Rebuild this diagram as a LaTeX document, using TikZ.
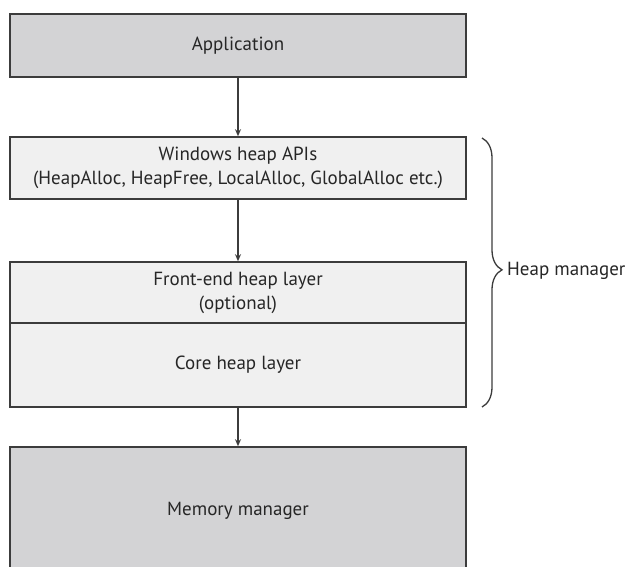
\documentclass[tikz,border=0pt]{standalone}
\usepackage{fontspec}
\setmainfont{PT Sans}
\usetikzlibrary{arrows.meta,decorations.pathreplacing}
\definecolor{darkfill}{HTML}{D3D3D5}
\definecolor{lightfill}{HTML}{F0F0F0}
\definecolor{edge}{HTML}{3C3C3C}
\begin{document}
\begin{tikzpicture}[x=1pt,y=-1pt,
  txt/.style={font=\fontsize{19}{24}\selectfont, text=black!85},
  box/.style={txt, draw=edge, line width=1.6pt, rectangle, minimum width=456pt, inner sep=0pt,
    align=center},
  darkbox/.style={box, fill=darkfill},
  lightbox/.style={box, fill=lightfill},
  arr/.style={draw=edge, line width=1.3pt, -{Stealth[length=7pt,width=6pt]}},
  bracestyle/.style={draw=edge, line width=1.3pt, decorate,
    decoration={brace, amplitude=20pt, aspect=0.49}}]
\clip (0,0) rectangle (627,567);
\fill[white] (0,0) rectangle (627,567);
\node[darkbox, minimum height=63pt] (app) at (238,45.5) {Application};
\node[lightbox, minimum height=62pt] (win) at (238,168) {Windows heap APIs\\(HeapAlloc, HeapFree, LocalAlloc, GlobalAlloc etc.)};
\node[lightbox, minimum height=61pt] (front) at (238,292.5) {Front-end heap layer\\(optional)};
\node[lightbox, minimum height=84pt] (core) at (238,365) {Core heap layer};
\node[darkbox, minimum height=128pt] (mem) at (238,511) {Memory manager};
\draw[arr] (app.south) -- (win.north);
\draw[arr] (win.south) -- (front.north);
\draw[arr] (core.south) -- (mem.north);
\coordinate (bt) at (482,138);
\coordinate (bb) at (482,407);
\draw[bracestyle] (bt) -- (bb);
\node[txt, anchor=west, inner sep=0pt] (hm) at (507,271) {Heap manager};
\end{tikzpicture}
\end{document}
